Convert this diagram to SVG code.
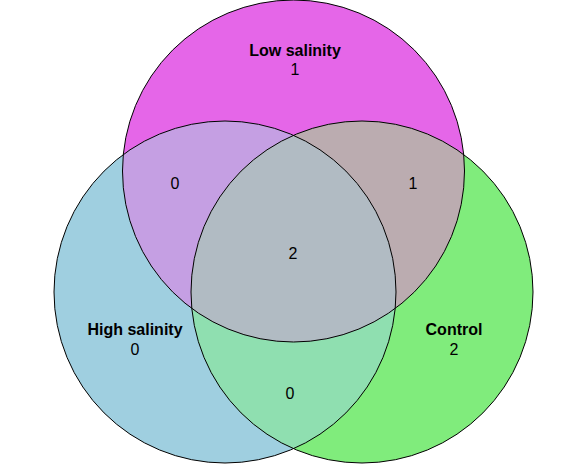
<svg xmlns="http://www.w3.org/2000/svg" width="587" height="467" viewBox="0 0 587 467">
<style>
.lab{font-family:"Liberation Sans",Arial,sans-serif;font-size:16px;font-weight:bold;fill:#000;text-anchor:middle}
.num{font-family:"Liberation Sans",Arial,sans-serif;font-size:16px;fill:#000;text-anchor:middle}
.edge{fill:none;stroke:#000;stroke-width:1}
</style>
<defs>
<clipPath id="cTop"><circle cx="293.5" cy="171" r="171"/></clipPath>
<clipPath id="cLeft"><circle cx="225" cy="292" r="171"/></clipPath>
<clipPath id="cRight"><circle cx="362" cy="292" r="171"/></clipPath>
</defs>
<g id="fills">
<circle cx="293.5" cy="171" r="171" fill="#e566e8"/>
<circle cx="225" cy="292" r="171" fill="#9fcfe0"/>
<circle cx="362" cy="292" r="171" fill="#80ec7c"/>
<g clip-path="url(#cLeft)"><circle cx="362" cy="292" r="171" fill="#8fdfb0"/></g>
<g clip-path="url(#cTop)"><circle cx="225" cy="292" r="171" fill="#c59fe3"/></g>
<g clip-path="url(#cTop)"><circle cx="362" cy="292" r="171" fill="#bbacb0"/></g>
<g clip-path="url(#cTop)"><g clip-path="url(#cLeft)"><circle cx="362" cy="292" r="171" fill="#b1bbc3"/></g></g>
</g>
<g id="node-low">
<circle class="edge" cx="293.5" cy="171" r="171"/>
<text class="lab" x="295" y="56">Low salinity</text>
<text class="num" x="295" y="75">1</text>
</g>
<g id="node-high">
<circle class="edge" cx="225" cy="292" r="171"/>
<text class="lab" x="135" y="335">High salinity</text>
<text class="num" x="135" y="355">0</text>
</g>
<g id="node-control">
<circle class="edge" cx="362" cy="292" r="171"/>
<text class="lab" x="454" y="335">Control</text>
<text class="num" x="454" y="355">2</text>
</g>
<g id="overlaps">
<text class="num" x="175" y="189">0</text>
<text class="num" x="413" y="189">1</text>
<text class="num" x="293" y="259">2</text>
<text class="num" x="290" y="399">0</text>
</g>
<g id="connectors"></g>
</svg>
